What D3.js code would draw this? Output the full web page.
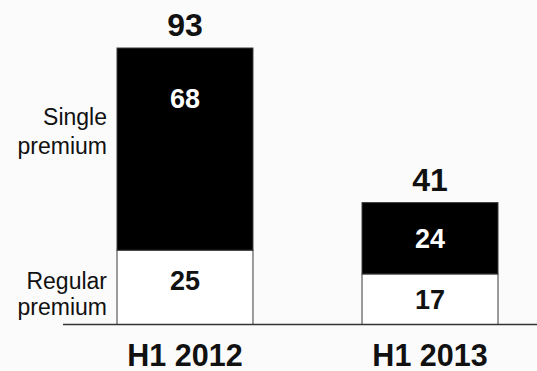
<!DOCTYPE html>
<html>
<head>
<meta charset="utf-8">
<script src="https://cdn.jsdelivr.net/npm/d3@7"></script>
<style>
  html, body { margin: 0; padding: 0; background: #fbfbfb; }
  svg { display: block; font-family: "Liberation Sans", Arial, Helvetica, sans-serif; }
</style>
</head>
<body>
<svg id="chart" width="537" height="371"></svg>
<script>
// Premium volumes by half-year
const categories = ["H1 2012", "H1 2013"];
const regularPremium = [25, 17];
const singlePremium = [68, 24];
const seriesNames = ["Regular\npremium", "Single\npremium"];

const width = 537, height = 371;
const baseline = 324.5;

const svg = d3.select("#chart");

const rows = categories.map((c, i) => ({
  category: c,
  regular: regularPremium[i],
  single: singlePremium[i]
}));

const stack = d3.stack().keys(["regular", "single"]);
const layers = stack(rows);

const x = d3.scaleBand()
  .domain(categories)
  .range([117, 498])
  .paddingInner(0.445)
  .paddingOuter(0);

const y = d3.scaleLinear()
  .domain([0, 93])
  .range([baseline, 48]);

const fills = { regular: "#ffffff", single: "#000000" };
const textFill = { regular: "#111111", single: "#ffffff" };
// how far below a segment's top its value label may sit at most
const maxDrop = { regular: 30, single: 50 };

// stacked segments
layers.forEach(layer => {
  const key = layer.key;
  svg.append("g")
    .selectAll("rect")
    .data(layer)
    .join("rect")
    .attr("x", d => x(d.data.category))
    .attr("width", x.bandwidth())
    .attr("y", d => y(d[1]))
    .attr("height", d => y(d[0]) - y(d[1]))
    .attr("fill", fills[key])
    .attr("stroke", "#3a3a3a")
    .attr("stroke-width", 1);

  svg.append("g")
    .selectAll("text")
    .data(layer)
    .join("text")
    .attr("x", d => x(d.data.category) + x.bandwidth() / 2)
    .attr("y", d => {
      const top = y(d[1]), bottom = y(d[0]);
      return Math.min((top + bottom) / 2, top + maxDrop[key]);
    })
    .attr("dy", "0.36em")
    .attr("text-anchor", "middle")
    .attr("font-weight", "bold")
    .attr("font-size", 27)
    .attr("fill", textFill[key])
    .text(d => d[1] - d[0]);
});

// totals above bars
svg.append("g")
  .selectAll("text")
  .data(rows)
  .join("text")
  .attr("x", d => x(d.category) + x.bandwidth() / 2)
  .attr("y", d => y(d.regular + d.single) - 12)
  .attr("text-anchor", "middle")
  .attr("font-weight", "bold")
  .attr("font-size", 32)
  .attr("fill", "#111")
  .text(d => d.regular + d.single);

// baseline
svg.append("line")
  .attr("x1", 63).attr("x2", width)
  .attr("y1", baseline).attr("y2", baseline)
  .attr("stroke", "#333")
  .attr("stroke-width", 1.5);

// category axis labels
const xAxis = d3.axisBottom(x).tickSize(0).tickPadding(0);
const axisG = svg.append("g")
  .attr("transform", `translate(0,${baseline})`)
  .call(xAxis);
axisG.select(".domain").remove();
axisG.selectAll("text")
  .attr("y", 41)
  .attr("dy", 0)
  .attr("font-family", "Liberation Sans, Arial, sans-serif")
  .attr("font-size", 30.5)
  .attr("font-weight", "bold")
  .attr("fill", "#111");

// series labels to the left of the first bar
const first = layers.map(l => l[0]);
const seriesLabel = svg.append("g");
[
  { name: seriesNames[0], firstBase: 289, lineGap: 26 },
  { name: seriesNames[1], firstBase: 125, lineGap: 29 }
].forEach(s => {
  const t = seriesLabel.append("text")
    .attr("text-anchor", "end")
    .attr("font-size", 23)
    .attr("fill", "#111");
  s.name.split("\n").forEach((line, i) => {
    t.append("tspan")
      .attr("x", x(categories[0]) - 10)
      .attr("y", s.firstBase + i * s.lineGap)
      .text(line);
  });
});
</script>
</body>
</html>
